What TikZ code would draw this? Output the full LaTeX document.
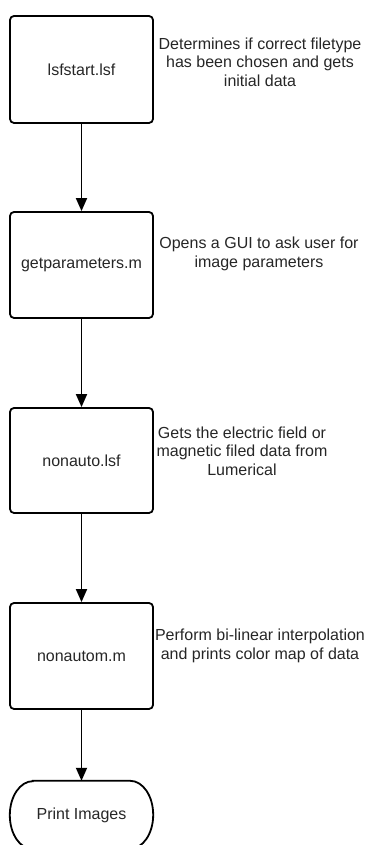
\documentclass[tikz,border=0pt]{standalone}
\usepackage{fontspec}
\setmainfont{Liberation Sans}
\usetikzlibrary{arrows.meta}
\begin{document}
\begin{tikzpicture}[x=1pt,y=1pt,
  procbox/.style={draw=black, line width=1.8pt, rounded corners=4pt, minimum width=143pt, minimum height=106pt, inner sep=0pt, font=\fontsize{16pt}{18.5pt}\selectfont, text=black!85},
  sidetext/.style={align=center, inner sep=0pt, font=\fontsize{16pt}{18.5pt}\selectfont, text=black!85},
  flow/.style={line width=1.8pt, -{Triangle[width=11pt,length=13pt]}}
]
\useasboundingbox (0,0) rectangle (365,845);
\node[procbox, minimum height=107pt] (b1) at (81.5,775.5) {lsfstart.lsf};
\node[procbox] (b2) at (81.5,580) {getparameters.m};
\node[procbox, minimum height=105pt] (b3) at (81.5,384.5) {nonauto.lsf};
\node[procbox] (b4) at (81.5,189) {nonautom.m};
\node[minimum width=143pt, minimum height=68pt, inner sep=0pt, font=\fontsize{16pt}{18.5pt}\selectfont, text=black!85] (t) at (81.5,30) {Print Images};
\draw[line width=1.8pt] ([xshift=23pt]t.north west) -- ([xshift=-23pt]t.north east)
  arc[start angle=90, end angle=0, x radius=23pt, y radius=34pt]
  arc[start angle=0, end angle=-90, x radius=23pt, y radius=34pt]
  -- ([xshift=23pt]t.south west)
  arc[start angle=270, end angle=180, x radius=23pt, y radius=34pt]
  arc[start angle=180, end angle=90, x radius=23pt, y radius=34pt] -- cycle;
\node[sidetext] (s1) at (260,783) {Determines if correct filetype\\has been chosen and gets\\initial data};
\node[sidetext] (s2) at (259,591) {Opens a GUI to ask user for\\image parameters};
\node[sidetext] (s3) at (242,394) {Gets the electric field or\\magnetic filed data from\\Lumerical};
\node[sidetext] (s4) at (260,199) {Perform bi-linear interpolation\\and prints color map of data};
\draw[flow] (b1) -- (b2);
\draw[flow] (b2) -- (b3);
\draw[flow] (b3) -- (b4);
\draw[flow] (b4) -- (t);
\end{tikzpicture}
\end{document}
